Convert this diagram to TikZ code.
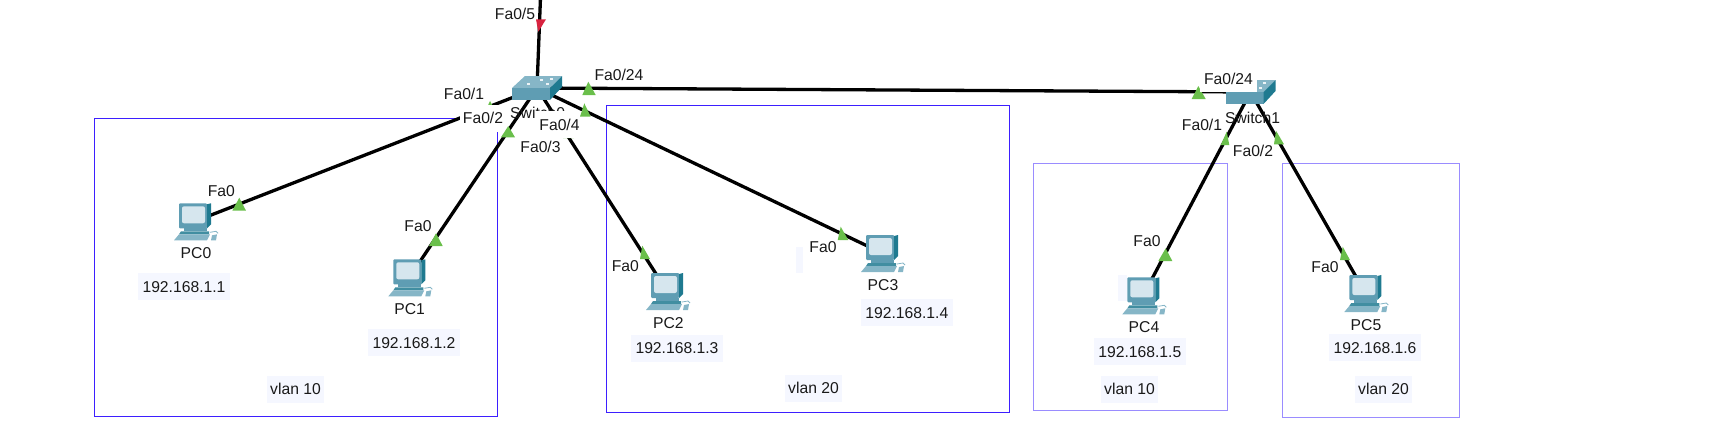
\documentclass[tikz,border=0pt]{standalone}
\usepackage{fontspec}
\setmainfont{Liberation Sans}
\usetikzlibrary{positioning}

\definecolor{vlanblue}{HTML}{3D1FFF}
\definecolor{vlanlight}{HTML}{9A8CFF}
\definecolor{notebg}{HTML}{F5F7FF}
\definecolor{linkgreen}{HTML}{6ABF4B}
\definecolor{linkred}{HTML}{D8233F}
\definecolor{devmid}{HTML}{5F9DB3}
\definecolor{devdark}{HTML}{1F7A90}
\definecolor{devlight}{HTML}{86B6C7}
\definecolor{devscreen}{HTML}{D6E6EE}

\tikzset{
    lbl/.style={font=\fontsize{15.7}{18}\selectfont, text=black!90, inner sep=0pt},
    lblbg/.style={lbl, fill=white, minimum height=27pt},
    ipbox/.style={lbl, fill=notebg, minimum width=92pt, minimum height=27pt},
    vlanbox/.style={lbl, fill=notebg, minimum width=57pt, minimum height=27pt},
    link/.style={line width=3.3pt, black},
    pcicon/.pic={
        \begin{scope}[shift={(-16,-18)}]
        \fill[devmid, rounded corners=1pt] (0,0) rectangle (28,25);
        \fill[devdark] (28,1) -- (32,0) -- (32,21) -- (28,25) -- cycle;
        \fill[devscreen, rounded corners=2pt] (3,3) rectangle (26,20);
        \fill[devmid] (5,25) rectangle (28,28);
        \fill[devdark!85] (2,28) -- (30,28) -- (30,31) -- (0,31) -- cycle;
        \fill[devlight] (0,31) -- (31,31) -- (28,37) -- (-5,37) -- cycle;
        \draw[devlight, line width=0.8pt] (31,29) -- (37,28) -- (39,30);
        \fill[devlight] (33,32) -- (38,31) -- (37,37) -- (32,37) -- cycle;
        \end{scope}
    },
    swicon/.pic={
        \fill[devlight] (-25,0) -- (-12,-12) -- (25,-12) -- (13,0) -- cycle;
        \fill[devmid] (-25,0) rectangle (13,12);
        \fill[devdark] (13,0) -- (25,-12) -- (25,-1) -- (13,12) -- cycle;
        \foreach \dx/\dy in {-9/-4, 4/-8, 10/-4, 14/-9} {
            \fill[white!85!devlight] (\dx-1.5,\dy-0.8) rectangle (\dx+1.5,\dy+0.8);
        }
    }
}

\begin{document}
\begin{tikzpicture}[x=1pt, y=-1pt]
\useasboundingbox (0,0) rectangle (1721,440);

% VLAN boxes
\draw[vlanblue, line width=1.3pt] (94.5,118.5) rectangle (497.5,416.5);
\draw[vlanblue, line width=1.3pt] (606.5,105.5) rectangle (1009.5,412.5);
\draw[vlanlight, line width=1.6pt] (1033.5,163.5) rectangle (1227.5,410.5);
\draw[vlanlight, line width=1.6pt] (1282.5,163.5) rectangle (1459.5,417.5);

% Leftover note patches
\fill[notebg] (795.7,246.7) rectangle (803.3,273.3);
\fill[notebg] (1118,275) rectangle (1126.7,300.7);

% Devices
\coordinate (sw0) at (537,88);
\coordinate (sw1) at (1250.5,92);
\coordinate (uplink) at (540.4,0);
\foreach \n/\x/\y in {0/195/221.3, 1/409.3/277.3, 2/667/291, 3/882/253, 4/1143.3/295.3, 5/1365.3/293} {
    \coordinate (pc\n) at (\x,\y);
}

% Links
\draw[link] (sw0) -- (uplink);
\draw[link] (sw0) -- (sw1);
\foreach \n in {0,1,2,3} {
    \draw[link] (sw0) -- (pc\n);
}
\foreach \n in {4,5} {
    \draw[link] (sw1) -- (pc\n);
}

% Link lights
\fill[linkred] (538.3,31.7) -- (536,19.3) -- (546,19.3) -- cycle;
\foreach \ax/\ay/\bl/\br/\by in {
    490/101/484/497/114, 568/124/563/574/138, 588.3/81.7/582.3/595.7/95,
    1198.3/86/1191.7/1205.7/99, 1226.7/131.7/1220.7/1229.3/145, 1276/130.7/1274/1284/144.3,
    239.3/197.7/232.3/246/210.7, 436/233.3/429/442.7/246, 642.3/245.7/640/650/259,
    840.7/226.7/837.7/848.3/240, 1165.7/248.3/1158.3/1172.3/261, 1342.7/246.7/1340/1350/260} {
    \fill[linkgreen] (\ax,\ay) -- (\bl,\by) -- (\br,\by) -- cycle;
}

% Icons
\foreach \n in {0,...,5} {
    \pic at (pc\n) {pcicon};
}
\pic at (sw0) {swicon};
\pic at (sw1) {swicon};

% Device names
\node[lbl] (swname0) at (537.7,113) {Switch0};
\node[lbl] (swname1) at (1252.5,118) {Switch1};
\foreach \n/\x/\y in {0/196/253.5, 1/409.7/309.5, 2/668.3/323.5, 3/883/285.5, 4/1144/327, 5/1366/325} {
    \node[lbl] (pcname\n) at (\x,\y) {PC\n};
}

% Addresses
\foreach \n/\x/\y in {1/184/286.7, 2/414/342.7, 3/677/348.3, 4/906.8/312.7, 5/1139.8/351.7, 6/1375/347.7} {
    \node[ipbox] (ip\n) at (\x,\y) {192.168.1.\n};
}
\node[vlanbox] (vlan0) at (295.5,389.3) {vlan 10};
\node[vlanbox] (vlan1) at (813.5,388.3) {vlan 20};
\node[vlanbox] (vlan2) at (1129.5,389.3) {vlan 10};
\node[vlanbox] (vlan3) at (1383.5,389.3) {vlan 20};

% Port labels
\node[lbl] (p5) at (515,13.5) {Fa0/5};
\node[lbl] (p1) at (464,94) {Fa0/1};
\node[lblbg, minimum width=47pt] (p2) at (483,118) {Fa0/2};
\node[lbl] (p3) at (540.5,146.5) {Fa0/3};
\node[lblbg, minimum width=47pt] (p4) at (559.5,124.5) {Fa0/4};
\node[lbl] (p24) at (619,75) {Fa0/24};
\node[lblbg, minimum width=57pt] (q24) at (1228.5,78.5) {Fa0/24};
\node[lbl] (q1) at (1202,125) {Fa0/1};
\node[lbl] (q2) at (1253,151) {Fa0/2};
\foreach \n/\x/\y in {0/221.3/191, 1/418/226, 2/625.3/266, 3/823/247, 4/1147/241, 5/1325/267} {
    \node[lbl] (fa\n) at (\x,\y) {Fa0};
}

% Lights that sit over the labels
\foreach \ax/\ay/\bl/\br/\by in {508.3/126/501/515/137.3, 584.3/103.3/580/590.7/116.7} {
    \fill[linkgreen] (\ax,\ay) -- (\bl,\by) -- (\br,\by) -- cycle;
}
\end{tikzpicture}
\end{document}
